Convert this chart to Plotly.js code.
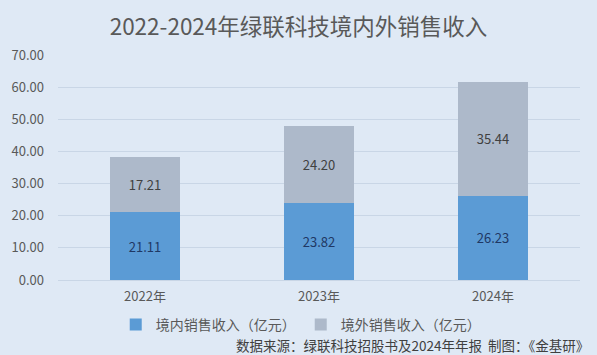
<!DOCTYPE html>
<html><head><meta charset="utf-8">
<script src="https://cdn.plot.ly/plotly-3.0.1.min.js"></script>
<style>html,body{margin:0;padding:0;background:#dfe9f5;}#c{width:597px;height:355px;}</style>
</head><body><div id="c"></div>
<script>
const years = ['2022年','2023年','2024年'];
const domestic = [21.11, 23.82, 26.23];
const overseas = [17.21, 24.20, 35.44];
const yTicks = [0,10,20,30,40,50,60,70];
const f = '"Noto Sans CJK SC", "Microsoft YaHei", sans-serif';
const traces = [
  {type:'bar', name:'境内销售收入（亿元）', x:years, y:domestic, marker:{color:'#5b9bd5'},
   text:domestic.map(v=>v.toFixed(2)), textposition:'inside', insidetextanchor:'middle',
   textfont:{family:f,size:13,color:'#1f3864'}, hoverinfo:'skip'},
  {type:'bar', name:'境外销售收入（亿元）', x:years, y:overseas, marker:{color:'#adb9ca'},
   text:overseas.map(v=>v.toFixed(2)), textposition:'inside', insidetextanchor:'middle',
   textfont:{family:f,size:13,color:'#404040'}, hoverinfo:'skip'}
];
const layout = {
  width:597, height:355, barmode:'stack', bargap:0.6,
  paper_bgcolor:'#dfe9f5', plot_bgcolor:'#dfe9f5',
  margin:{l:58,r:17,t:55,b:75, autoexpand:false},
  font:{family:f,color:'#595959'},
  title:{text:'2022-2024年绿联科技境内外销售收入', x:0.5, xanchor:'center', yref:'container', y:0.925, yanchor:'middle',
         font:{family:f,size:22.5,color:'#595959'}},
  yaxis:{range:[0,70], tickvals:yTicks, ticktext:yTicks.map(v=>v.toFixed(2)),
         gridcolor:'#c9d6e6', gridwidth:1, zeroline:true, zerolinecolor:'#c9d6e6',
         tickfont:{family:f,size:13,color:'#595959'}, ticks:'', ticklabelstandoff:13, showline:false},
  xaxis:{tickfont:{family:f,size:13,color:'#595959'}, showline:false, ticks:'', ticklabelstandoff:7},
  showlegend:true,
  legend:{orientation:'h', x:0.465, xanchor:'center', yref:'container', y:0.085, yanchor:'middle',
          font:{family:f,size:14,color:'#595959'}, traceorder:'normal', itemwidth:20, bgcolor:'rgba(0,0,0,0)'},
  annotations:[
    {text:'数据来源：绿联科技招股书及2024年年报  制图：《金基研》', xref:'paper', yref:'paper',
     x:1.022, y:-0.29, xanchor:'right', yanchor:'middle', showarrow:false,
     font:{family:f,size:13.5,color:'#404040'}}
  ]
};
Plotly.newPlot('c', traces, layout, {displayModeBar:false, staticPlot:true});
</script></body></html>
